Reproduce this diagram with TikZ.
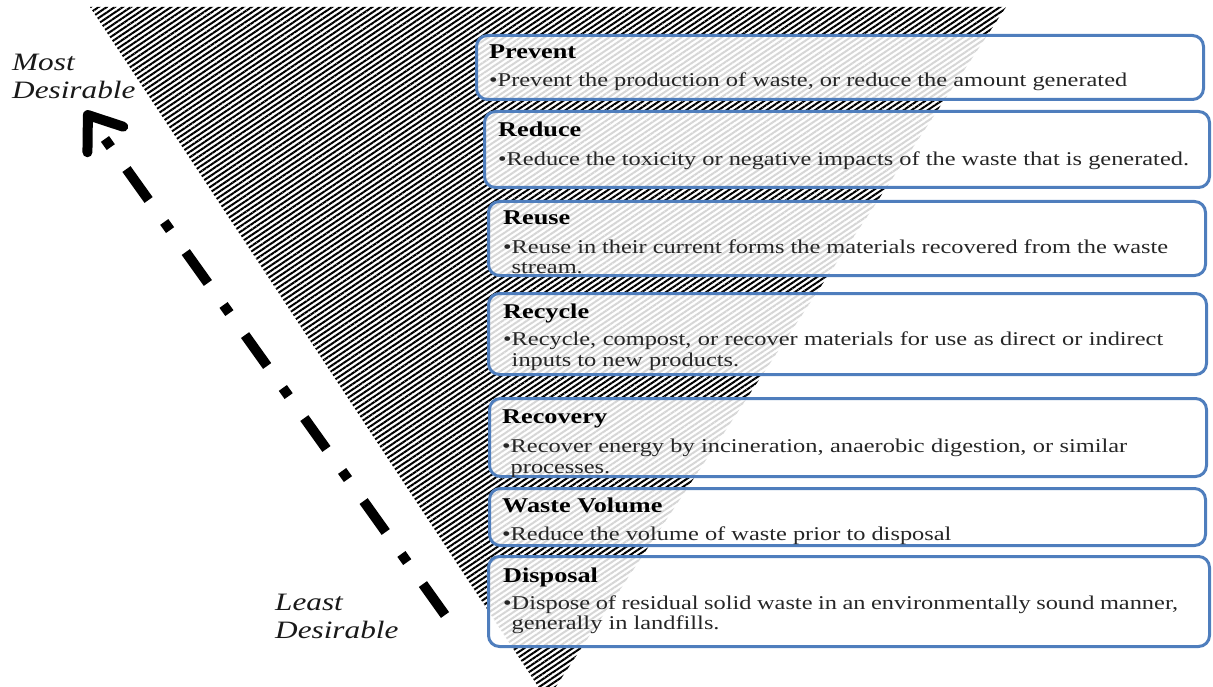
\documentclass[tikz,border=0pt]{standalone}
\usepackage{fontspec}
\setmainfont{Liberation Serif}[FakeStretch=1.25]
\usetikzlibrary{arrows.meta,patterns.meta}

\definecolor{tierblue}{HTML}{4F7EBD}

\tikzset{
	tier/.style={draw=tierblue, line width=3pt, rounded corners=11pt, fill=white, fill opacity=0.84, anchor=north west, inner sep=0pt},
	tiertitle/.style={anchor=base west, inner sep=0pt, font=\fontsize{21}{23}\selectfont\bfseries},
	tierbody/.style={anchor=north west, inner sep=0pt, align=left, text=black!85, font=\fontsize{19.5}{20.5}\selectfont},
	desire/.style={anchor=north west, inner sep=0pt, align=left, text=black!90, font=\fontsize{25}{28}\selectfont\itshape},
}

\newcommand{\hang}{\hphantom{\textbullet}}

\begin{document}
	\begin{tikzpicture}[x=1pt,y=-1pt]
		\useasboundingbox (0,0) rectangle (1213,687);
		
		% Hatched triangle behind the tiers
		\fill[pattern={Lines[angle=34,distance=4.5pt,line width=2pt]}]
		(90,7) -- (1006,7) -- (547,700) -- cycle;
		
		% Tiers, from most to least desirable
		\node[tier, minimum width=727, minimum height=64] (prevent) at (475,34) {};
		\node[tier, minimum width=725, minimum height=76] (reduce) at (483,110) {};
		\node[tier, minimum width=717, minimum height=74] (reuse) at (487,200) {};
		\node[tier, minimum width=718, minimum height=81] (recycle) at (487,292) {};
		\node[tier, minimum width=717, minimum height=78] (recovery) at (488,397) {};
		\node[tier, minimum width=716, minimum height=57] (volume) at (488,487) {};
		\node[tier, minimum width=721, minimum height=90] (disposal) at (487,555) {};
		
		% Titles of the tiers
		\node[tiertitle] (prevent-t) at ([shift={(14,25)}]prevent.north west) {Prevent};
		\node[tiertitle] (reduce-t) at ([shift={(15,27)}]reduce.north west) {Reduce};
		\node[tiertitle] (reuse-t) at ([shift={(16,25)}]reuse.north west) {Reuse};
		\node[tiertitle] (recycle-t) at ([shift={(16,26)}]recycle.north west) {Recycle};
		\node[tiertitle] (recovery-t) at ([shift={(14,26)}]recovery.north west) {Recovery};
		\node[tiertitle] (volume-t) at ([shift={(14,25)}]volume.north west) {Waste Volume};
		\node[tiertitle] (disposal-t) at ([shift={(16,27)}]disposal.north west) {Disposal};
		
		% Bullet text of the tiers (first baseline about 27 below the title)
		\node[tierbody] (prevent-b) at ([shift={(0,14)}]prevent-t.base west)
		{\textbullet Prevent the production of waste, or reduce the amount generated};
		\node[tierbody] (reduce-b) at ([shift={(0,14.5)}]reduce-t.base west)
		{\textbullet Reduce the toxicity or negative impacts of the waste that is generated.};
		\node[tierbody] (reuse-b) at ([shift={(0,14.5)}]reuse-t.base west)
		{\makebox[665pt][s]{\textbullet Reuse in their current forms the materials recovered from the waste}\\\hang stream.};
		\node[tierbody] (recycle-b) at ([shift={(0,14)}]recycle-t.base west)
		{\makebox[660pt][s]{\textbullet Recycle, compost, or recover materials for use as direct or indirect}\\\hang inputs to new products.};
		\node[tierbody] (recovery-b) at ([shift={(0,16)}]recovery-t.base west)
		{\makebox[625pt][s]{\textbullet Recover energy by incineration, anaerobic digestion, or similar}\\\hang processes.};
		\node[tierbody] (volume-b) at ([shift={(0,14.5)}]volume-t.base west)
		{\textbullet Reduce the volume of waste prior to disposal};
		\node[tierbody] (disposal-b) at ([shift={(0,13.5)}]disposal-t.base west)
		{\makebox[675pt][s]{\textbullet Dispose of residual solid waste in an environmentally sound manner,}\\\hang generally in landfills.};
		
		% Ends of the scale
		\node[desire] (most) at (12,53.5) {Most\\Desirable};
		\node[desire] (least) at (275,593.5) {Least\\Desirable};
		
		% Dash-dot arrow up the scale
		\coordinate (bottom) at (445,615);
		\coordinate (top) at (85,111);
		\draw[line width=10pt, dash pattern=on 38pt off 27pt on 10pt off 27pt,
		-{Straight Barb[length=30pt,width=44pt,round]}] (bottom) -- (top);
		
	\end{tikzpicture}
\end{document}
